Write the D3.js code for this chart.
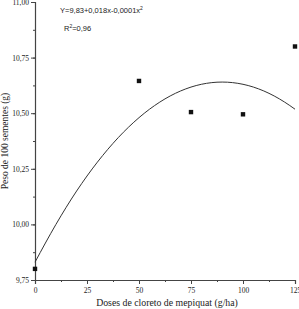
<!DOCTYPE html>
<html>
<head>
<meta charset="utf-8">
<script src="https://cdn.jsdelivr.net/npm/d3@7"></script>
<style>
body { margin: 0; background: #fff; }
svg text { font-family: "Liberation Serif", "Times New Roman", serif; fill: #222; }
</style>
</head>
<body>
<div id="chart"></div>
<script>
// observed points
var doses = [0, 50, 75, 100, 125];
var peso = [9.80, 10.645, 10.505, 10.495, 10.80];

// fitted curve
var curveX = [0, 10, 20, 30, 40, 50, 60, 70, 80, 90, 100, 110, 120, 125];
var curveY = [9.83, 9.999, 10.15, 10.28, 10.39, 10.48, 10.55, 10.60, 10.63, 10.64, 10.63, 10.60, 10.55, 10.518];

var xTicks = [0, 25, 50, 75, 100, 125];
var yTicks = [9.75, 10.00, 10.25, 10.50, 10.75, 11.00];

var margin = {left: 35, top: 2, right: 4, bottom: 29};
var width = 299, height = 309;

var svg = d3.select("#chart").append("svg")
    .attr("width", width)
    .attr("height", height);

var g = svg.append("g")
    .attr("transform", "translate(" + margin.left + "," + margin.top + ")");

var innerW = width - margin.left - margin.right;
var innerH = height - margin.top - margin.bottom;

var x = d3.scaleLinear().domain([0, 125]).range([0, innerW]);
var y = d3.scaleLinear().domain([9.75, 11.00]).range([innerH, 0]);

var fmt = function (d) { return d3.format(".2f")(d).replace(".", ","); };

// minor ticks
var xMinor = d3.range(0, 126, 12.5);
var yMinor = d3.range(9.75, 11.01, 0.125);

g.append("g")
    .attr("transform", "translate(0," + innerH + ")")
    .call(d3.axisBottom(x).tickValues(xMinor).tickSize(2).tickFormat(""))
    .call(function (a) { a.select(".domain").remove(); });

g.append("g")
    .call(d3.axisLeft(y).tickValues(yMinor).tickSize(2).tickFormat(""))
    .call(function (a) { a.select(".domain").remove(); });

var xAxis = g.append("g")
    .attr("transform", "translate(0," + innerH + ")")
    .call(d3.axisBottom(x).tickValues(xTicks).tickSize(4).tickPadding(4)
        .tickFormat(d3.format("d")));

var yAxis = g.append("g")
    .call(d3.axisLeft(y).tickValues(yTicks).tickSize(4).tickPadding(2)
        .tickFormat(fmt));

svg.selectAll(".tick line").attr("stroke", "#444");
svg.selectAll(".domain").attr("stroke", "#444").attr("stroke-width", 1.2);
svg.selectAll(".tick text")
    .style("font-size", "7.5px")
    .style("font-family", "Liberation Serif, serif")
    .attr("fill", "#222");

// axis titles
svg.append("text")
    .attr("x", margin.left + innerW / 2 + 2)
    .attr("y", 306)
    .attr("text-anchor", "middle")
    .style("font-size", "9.8px")
    .text("Doses de cloreto de mepiquat (g/ha)");

svg.append("text")
    .attr("transform", "translate(8," + (margin.top + innerH / 2) + ") rotate(-90)")
    .attr("text-anchor", "middle")
    .style("font-size", "9.5px")
    .text("Peso de 100 sementes (g)");

// fitted curve
var line = d3.line()
    .x(function (d, i) { return x(curveX[i]); })
    .y(function (d) { return y(d); })
    .curve(d3.curveMonotoneX);

g.append("path")
    .datum(curveY)
    .attr("fill", "none")
    .attr("stroke", "#333")
    .attr("stroke-width", 1)
    .attr("d", line);

// points
g.selectAll("rect.pt")
    .data(peso)
    .enter().append("rect")
    .attr("class", "pt")
    .attr("x", function (d, i) { return x(doses[i]) - 2.2; })
    .attr("y", function (d) { return y(d) - 2.2; })
    .attr("width", 4.4)
    .attr("height", 4.4)
    .attr("fill", "#111");

// equation
var eq = svg.append("text")
    .attr("x", 60)
    .attr("y", 13)
    .style("font-family", "Liberation Sans, Arial, sans-serif")
    .style("font-size", "7.5px");
eq.append("tspan").text("Y=9,83+0,018x-0,0001x");
eq.append("tspan").attr("dy", -3).style("font-size", "5px").text("2");

var r2 = svg.append("text")
    .attr("x", 64)
    .attr("y", 31)
    .style("font-family", "Liberation Sans, Arial, sans-serif")
    .style("font-size", "7.5px");
r2.append("tspan").text("R");
r2.append("tspan").attr("dy", -3).style("font-size", "5px").text("2");
r2.append("tspan").attr("dy", 3).text("=0,96");
</script>
</body>
</html>
